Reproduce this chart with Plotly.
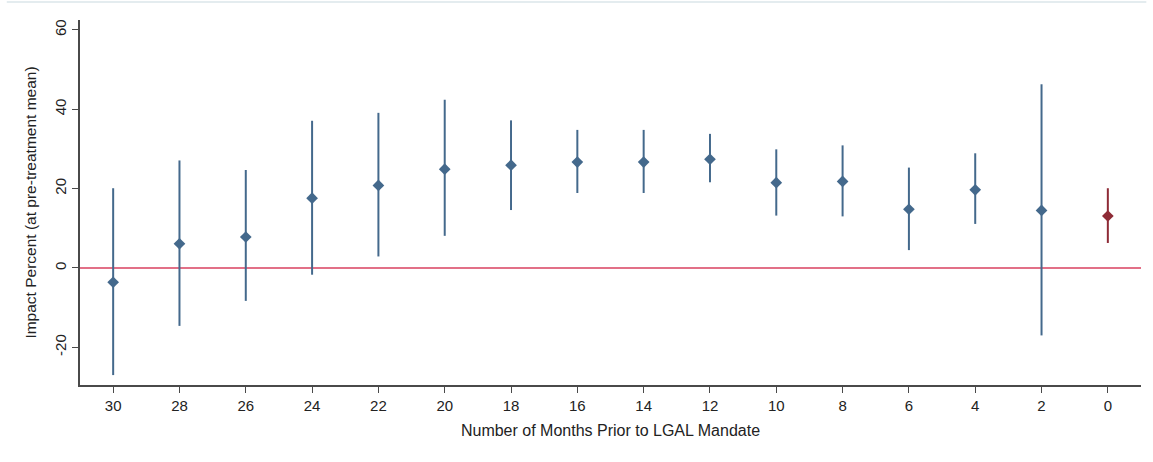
import plotly.graph_objects as go

# Event-study estimates: months before the LGAL mandate
months = [30, 28, 26, 24, 22, 20, 18, 16, 14, 12, 10, 8, 6, 4, 2, 0]
estimate = [-3.6, 6.1, 7.8, 17.6, 20.8, 24.9, 25.9, 26.7, 26.7, 27.4, 21.5, 21.8, 14.8, 19.7, 14.5, 13.1]
ci_upper = [20.1, 27.1, 24.7, 37.1, 39.1, 42.4, 37.2, 34.8, 34.8, 33.8, 29.9, 30.9, 25.3, 28.9, 46.3, 20.1]
ci_lower = [-27.0, -14.6, -8.3, -1.7, 2.9, 8.1, 14.6, 18.9, 18.9, 21.6, 13.2, 13.0, 4.5, 11.1, -17.0, 6.3]

x_ticks = list(range(30, -1, -2))
y_ticks = [-20, 0, 20, 40, 60]

BLUE = "#44698C"
MAROON = "#8E2B36"
CRIMSON = "#D8405F"
AXIS = "#4a4a4a"
TEXT = "#222222"
FONT = "Liberation Sans, Arial, sans-serif"

fig = go.Figure()


def add_series(xs, ys, lo, hi, color):
    fig.add_trace(go.Scatter(
        x=xs, y=ys, mode="markers",
        marker=dict(symbol="diamond", size=9, color=color, line=dict(width=0)),
        error_y=dict(type="data", symmetric=False,
                     array=[h - y for h, y in zip(hi, ys)],
                     arrayminus=[y - l for y, l in zip(ys, lo)],
                     color=color, thickness=2, width=0),
        showlegend=False, hoverinfo="x+y",
    ))


# pre-period points in blue, the mandate month in maroon
add_series(months[:-1], estimate[:-1], ci_lower[:-1], ci_upper[:-1], BLUE)
add_series(months[-1:], estimate[-1:], ci_lower[-1:], ci_upper[-1:], MAROON)

fig.add_hline(y=0, line=dict(color=CRIMSON, width=1.5), layer="below")

# thin light rule along the top of the page
fig.add_shape(type="line", xref="paper", yref="paper",
              x0=-0.069, x1=1.005, y0=1.049, y1=1.049,
              line=dict(color="#E4ECEF", width=2))

fig.update_layout(
    width=1153, height=462,
    margin=dict(l=80, r=12, t=20, b=77),
    paper_bgcolor="white", plot_bgcolor="white",
    font=dict(family=FONT, size=15, color=TEXT),
    xaxis=dict(
        range=[31, -1], tickvals=x_ticks, ticktext=[str(v) for v in x_ticks],
        showgrid=False, zeroline=False, showline=True, linecolor=AXIS, linewidth=1.5,
        ticks="outside", ticklen=6, tickcolor=AXIS, tickwidth=1.2,
        tickfont=dict(size=15, color=TEXT),
        title=dict(text="Number of Months Prior to LGAL Mandate",
                   font=dict(size=16, color=TEXT), standoff=12),
    ),
    yaxis=dict(
        range=[-29.5, 62.5], tickvals=y_ticks, ticktext=[str(v) for v in y_ticks],
        showgrid=False, zeroline=False, showline=True, linecolor=AXIS, linewidth=1.5,
        ticks="outside", ticklen=6, tickcolor=AXIS, tickwidth=1.2,
        tickangle=-90, tickfont=dict(size=15, color=TEXT),
        title=dict(text="Impact Percent (at pre-treatment mean)",
                   font=dict(size=15.5, color=TEXT), standoff=12),
    ),
)

fig.write_html("out.html")
